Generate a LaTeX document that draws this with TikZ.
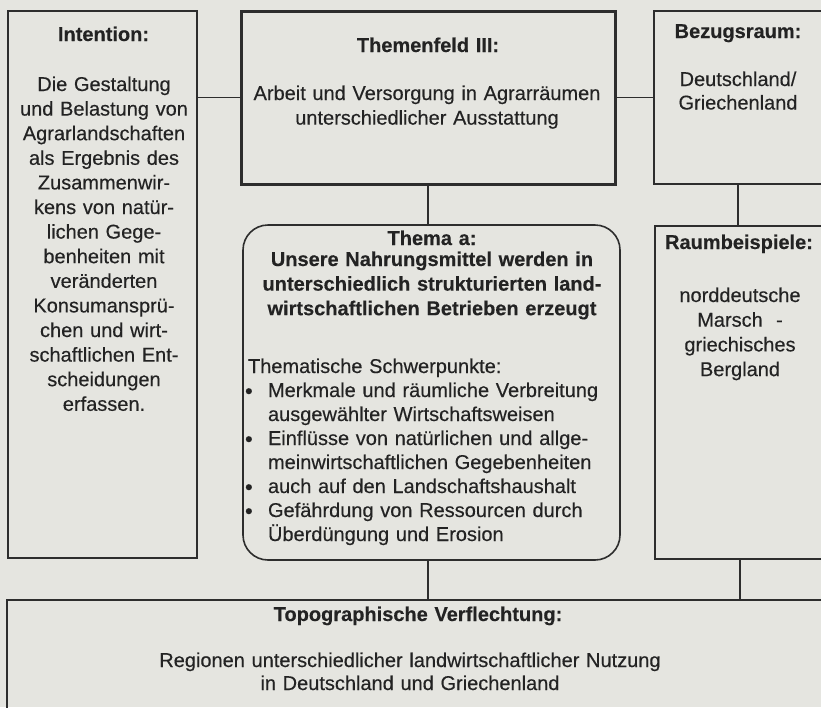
\documentclass[tikz,border=0pt]{standalone}
\usepackage{fontspec}
\setmainfont{Liberation Sans}[UprightFeatures={FakeBold=0.35},BoldFeatures={FakeBold=0.25}]
\definecolor{bgc}{RGB}{229,229,224}
\definecolor{linec}{RGB}{45,45,45}
\definecolor{textc}{RGB}{35,35,35}
\newcommand{\tbul}{\makebox[20pt][l]{\hspace*{-3pt}\raisebox{-1.5pt}{\fontsize{22}{22}\selectfont •}}}
\newcommand{\tind}{\hspace*{20pt}}
\begin{document}
\begin{tikzpicture}[x=1pt,y=-1pt,
  box/.style={draw=linec, line width=1.6pt, inner sep=0pt, outer sep=0pt},
  thickbox/.style={box, line width=3pt},
  conn/.style={draw=linec, line width=1.5pt},
  txt/.style={text=textc, inner sep=0pt, outer sep=0pt,
    font=\fontsize{20}{24.6}\selectfont, align=center, anchor=base, text width=#1},
  txt/.default=200pt]
\useasboundingbox (0,0) rectangle (821,707);
\fill[bgc] (0,0) rectangle (821,707);
\clip (0,0) rectangle (821,707);

% boxes
\node[box, minimum width=189pt, minimum height=547pt] (intent) at (102.5,284.5) {};
\node[thickbox, minimum width=374pt, minimum height=173pt] (tf) at (428,97.5) {};
\node[box, minimum width=168pt, minimum height=173pt] (bez) at (738,97.5) {};
\node[box, rounded corners=25pt, minimum width=377pt, minimum height=335pt] (thema) at (431.5,392.5) {};
\node[box, minimum width=170pt, minimum height=333pt] (rb) at (740,392.5) {};
\node[box, minimum width=828pt, minimum height=120pt] (topo) at (421,660) {};

% connectors
\draw[conn] (intent.east |- tf.west) -- (tf.west);
\draw[conn] (tf.east) -- (bez.west);
\draw[conn] (tf.south) -- (tf.south |- thema.north);
\draw[conn] (bez.south) -- (bez.south |- rb.north);
\draw[conn] (thema.south -| tf.south) -- (tf.south |- topo.north);
\draw[conn] (rb.south) -- (rb.south |- topo.north);

% texts
\node[txt] (intentH) at (103.5,41) {\bfseries Intention:};
\node[txt=185pt] (intentB) at (104,91) {Die Gestaltung\\und Belastung von\\Agrarlandschaften\\als Ergebnis des\\Zusammenwir-\\kens von natür-\\lichen Gege-\\benheiten mit\\veränderten\\Konsumansprü-\\chen und wirt-\\schaftlichen Ent-\\scheidungen\\erfassen.};

\node[txt] (tfH) at (428,52) {\bfseries Themenfeld III:};
\node[txt=370pt] (tfB) at (427,100) {Arbeit und Versorgung in Agrarräumen\\unterschiedlicher Ausstattung};

\node[txt=160pt] (bezH) at (738,38) {\bfseries Bezugsraum:};
\node[txt=160pt, font=\fontsize{20}{23.5}\selectfont] (bezB) at (738,86) {Deutschland/\\Griechenland};

\node[txt=370pt] (themaH) at (432,245) {\bfseries Thema a:\\[-3.6pt]Unsere Nahrungsmittel werden in\\unterschiedlich strukturierten land-\\wirtschaftlichen Betrieben erzeugt};
\node[txt=370pt, align=left, anchor=base west, font=\fontsize{20}{24}\selectfont] (themaB) at (248,373) {Thematische Schwerpunkte:\\
\tbul Merkmale und räumliche Verbreitung\\
\tind ausgewählter Wirtschaftsweisen\\
\tbul Einflüsse von natürlichen und allge-\\
\tind meinwirtschaftlichen Gegebenheiten\\
\tbul auch auf den Landschaftshaushalt\\
\tbul Gefährdung von Ressourcen durch\\
\tind Überdüngung und Erosion};

\node[txt=165pt] (rbH) at (739,249) {\bfseries Raumbeispiele:};
\node[txt=165pt, font=\fontsize{20}{24.7}\selectfont] (rbB) at (740,302) {norddeutsche\\Marsch\ \ -\\griechisches\\Bergland};

\node[txt=600pt] (topoH) at (418,621) {\bfseries Topographische Verflechtung:};
\node[txt=600pt, font=\fontsize{20}{23}\selectfont] (topoB) at (410,667) {Regionen unterschiedlicher landwirtschaftlicher Nutzung\\in Deutschland und Griechenland};
\end{tikzpicture}
\end{document}
